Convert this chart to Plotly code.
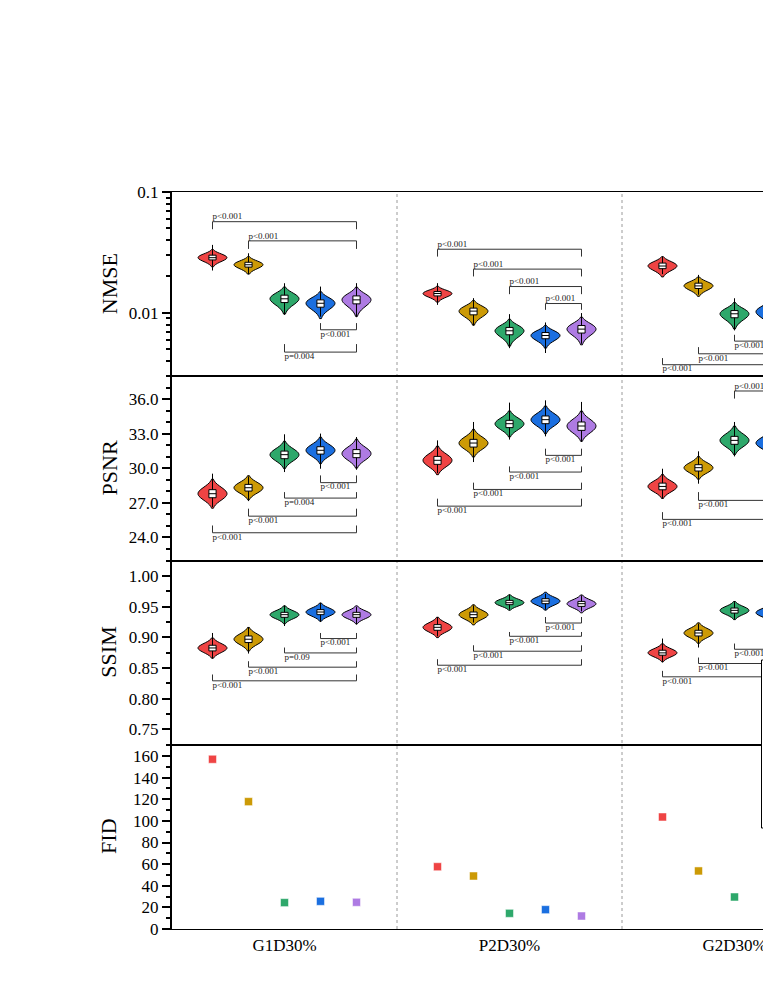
import plotly.graph_objects as go
from plotly.subplots import make_subplots

# Grupos (eixo x) e cores dos métodos
GRUPOS = ['G1D30%', 'P2D30%', 'G2D30%']
CORES = ['#EF4444', '#CC9A06', '#2EA86B', '#1B6FE0', '#AE7BE3']

# NMSE: mínimo, Q1, mediana, Q3, máximo por grupo / método
NMSE_MIN = [[0.0224, 0.0209, 0.00962, 0.0093, 0.0092],
            [0.01164, 0.00785, 0.0051, 0.00465, 0.00554],
            [0.0209, 0.0141, 0.00715, 0.0075]]
NMSE_Q1 = [[0.0274, 0.0239, 0.01216, 0.01113, 0.01186],
           [0.0138, 0.00962, 0.00658, 0.0061, 0.0068],
           [0.0232, 0.0159, 0.0091, 0.0095]]
NMSE_MED = [[0.0286, 0.0250, 0.01306, 0.0120, 0.0128],
            [0.01445, 0.01033, 0.0071, 0.00649, 0.00733],
            [0.0244, 0.0167, 0.00982, 0.0102]]
NMSE_Q3 = [[0.0300, 0.0262, 0.0140, 0.0128, 0.0138],
           [0.0150, 0.01094, 0.00757, 0.00687, 0.00785],
           [0.0258, 0.0176, 0.01044, 0.0109]]
NMSE_MAX = [[0.0365, 0.0311, 0.01758, 0.01649, 0.0176],
            [0.0176, 0.01322, 0.00975, 0.00832, 0.00995],
            [0.0292, 0.0206, 0.0132, 0.0135]]

# PSNR
PSNR_MIN = [[26.64, 27.16, 29.68, 29.97, 29.88],
            [29.59, 30.55, 32.50, 32.78, 32.29],
            [27.37, 28.67, 31.04, 30.9]]
PSNR_Q1 = [[27.45, 28.03, 30.84, 31.24, 30.93],
           [30.35, 31.85, 33.54, 33.88, 33.30],
           [28.14, 29.77, 32.09, 31.9]]
PSNR_MED = [[27.80, 28.32, 31.19, 31.57, 31.28],
            [30.70, 32.20, 33.88, 34.23, 33.68],
            [28.43, 30.06, 32.43, 32.2]]
PSNR_Q3 = [[28.15, 28.61, 31.50, 31.88, 31.63],
           [31.04, 32.52, 34.17, 34.55, 34.03],
           [28.72, 30.32, 32.78, 32.5]]
PSNR_MAX = [[29.54, 29.30, 32.96, 33.02, 32.72],
            [32.43, 34.03, 35.71, 35.91, 35.77],
            [29.97, 31.48, 34.03, 33.8]]

# SSIM
SSIM_MIN = [[0.8654, 0.8735, 0.9183, 0.9248, 0.9206],
            [0.9016, 0.9239, 0.9450, 0.9450, 0.9422],
            [0.8589, 0.8833, 0.9292, 0.926]]
SSIM_Q1 = [[0.8778, 0.8914, 0.9325, 0.9368, 0.9325],
           [0.9114, 0.9320, 0.9531, 0.9547, 0.9503],
           [0.8708, 0.9021, 0.9394, 0.936]]
SSIM_MED = [[0.8826, 0.8968, 0.9368, 0.9411, 0.9368],
            [0.9162, 0.9368, 0.9563, 0.9589, 0.9547],
            [0.8746, 0.9070, 0.9438, 0.940]]
SSIM_Q3 = [[0.8870, 0.9021, 0.9406, 0.9450, 0.9406],
           [0.9206, 0.9411, 0.9601, 0.9628, 0.9584],
           [0.8789, 0.9114, 0.9476, 0.944]]
SSIM_MAX = [[0.9070, 0.9167, 0.9519, 0.9563, 0.9492],
            [0.9330, 0.9519, 0.9693, 0.9709, 0.9682],
            [0.8979, 0.9222, 0.9573, 0.953]]

# FID
FID = [[157.0, 117.8, 24.4, 25.6, 24.7],
       [57.6, 49.0, 14.5, 17.9, 12.0],
       [103.6, 53.7, 29.6]]

# Comparações: (painel, grupo, método i, método j, nível, fim do traço, rótulo, lado)
COMPARACOES = [
    (1, 0, 0, 4, 0.0568, 0.0492, 'p<0.001', 'acima'),
    (1, 0, 1, 4, 0.0394, 0.0338, 'p<0.001', 'acima'),
    (1, 0, 3, 4, 0.00724, 0.00822, 'p<0.001', 'abaixo'),
    (1, 0, 2, 4, 0.00473, 0.00551, 'p=0.004', 'abaixo'),
    (1, 1, 0, 4, 0.0336, 0.0292, 'p<0.001', 'acima'),
    (1, 1, 1, 4, 0.0230, 0.0200, 'p<0.001', 'acima'),
    (1, 1, 2, 4, 0.0165, 0.01427, 'p<0.001', 'acima'),
    (1, 1, 3, 4, 0.01194, 0.01059, 'p<0.001', 'acima'),
    (1, 2, 2, 4, 0.00583, 0.00658, 'p<0.001', 'abaixo'),
    (1, 2, 1, 4, 0.00458, 0.0052, 'p<0.001', 'abaixo'),
    (1, 2, 0, 4, 0.00372, 0.00422, 'p<0.001', 'abaixo'),
    (2, 0, 3, 4, 28.76, 29.39, 'p<0.001', 'abaixo'),
    (2, 0, 2, 4, 27.42, 27.94, 'p=0.004', 'abaixo'),
    (2, 0, 1, 4, 25.85, 26.50, 'p<0.001', 'abaixo'),
    (2, 0, 0, 4, 24.41, 25.04, 'p<0.001', 'abaixo'),
    (2, 1, 3, 4, 31.13, 31.71, 'p<0.001', 'abaixo'),
    (2, 1, 2, 4, 29.68, 30.17, 'p<0.001', 'abaixo'),
    (2, 1, 1, 4, 28.17, 28.76, 'p<0.001', 'abaixo'),
    (2, 1, 0, 4, 26.72, 27.37, 'p<0.001', 'abaixo'),
    (2, 2, 2, 4, 36.72, 36.06, 'p<0.001', 'acima'),
    (2, 2, 1, 4, 27.22, 27.94, 'p<0.001', 'abaixo'),
    (2, 2, 0, 4, 25.57, 26.20, 'p<0.001', 'abaixo'),
    (3, 0, 3, 4, 0.8979, 0.9070, 'p<0.001', 'abaixo'),
    (3, 0, 2, 4, 0.8745, 0.8833, 'p=0.09', 'abaixo'),
    (3, 0, 1, 4, 0.8513, 0.8610, 'p<0.001', 'abaixo'),
    (3, 0, 0, 4, 0.8291, 0.8394, 'p<0.001', 'abaixo'),
    (3, 1, 3, 4, 0.9232, 0.9330, 'p<0.001', 'abaixo'),
    (3, 1, 2, 4, 0.9016, 0.9086, 'p<0.001', 'abaixo'),
    (3, 1, 1, 4, 0.8773, 0.8870, 'p<0.001', 'abaixo'),
    (3, 1, 0, 4, 0.8545, 0.8643, 'p<0.001', 'abaixo'),
    (3, 2, 2, 4, 0.8805, 0.8898, 'p<0.001', 'abaixo'),
    (3, 2, 1, 4, 0.8573, 0.8670, 'p<0.001', 'abaixo'),
    (3, 2, 0, 4, 0.8356, 0.8453, 'p<0.001', 'abaixo'),
]

FONTE = 'Liberation Serif, Times New Roman, serif'
LARGURA_GRUPO = 6.25
X_MAX = 591 / 36


def posicao(g, i):
    return g * LARGURA_GRUPO + LARGURA_GRUPO / 2 + (i - 2)


fig = make_subplots(rows=4, cols=1, shared_xaxes=True, vertical_spacing=0)

metricas = [
    (1, NMSE_MIN, NMSE_Q1, NMSE_MED, NMSE_Q3, NMSE_MAX),
    (2, PSNR_MIN, PSNR_Q1, PSNR_MED, PSNR_Q3, PSNR_MAX),
    (3, SSIM_MIN, SSIM_Q1, SSIM_MED, SSIM_Q3, SSIM_MAX),
]

for row, mins, q1s, meds, q3s, maxs in metricas:
    xs, bq1, bmed, bq3, bmin, bmax = [], [], [], [], [], []
    for g in range(len(meds)):
        for i in range(len(meds[g])):
            q1, med, q3 = q1s[g][i], meds[g][i], q3s[g][i]
            fig.add_trace(go.Violin(
                x0=posicao(g, i), y=[q1, med, q3],
                bandwidth=0.65 * (q3 - q1), width=0.8, scalemode='width',
                fillcolor=CORES[i], line=dict(color='black', width=1),
                points=False, box_visible=False, meanline_visible=False,
                hoverinfo='skip', showlegend=False,
            ), row=row, col=1)
            xs.append(posicao(g, i))
            bq1.append(q1)
            bmed.append(med)
            bq3.append(q3)
            bmin.append(mins[g][i])
            bmax.append(maxs[g][i])
    fig.add_trace(go.Box(
        x=xs, q1=bq1, median=bmed, q3=bq3, lowerfence=bmin, upperfence=bmax,
        width=0.2, whiskerwidth=0, fillcolor='white',
        line=dict(color='black', width=1), boxpoints=False,
        hoverinfo='skip', showlegend=False,
    ), row=row, col=1)

# FID
for g in range(len(FID)):
    fig.add_trace(go.Scatter(
        x=[posicao(g, i) for i in range(len(FID[g]))], y=FID[g],
        mode='markers',
        marker=dict(symbol='square', size=8, color=CORES[:len(FID[g])],
                    line=dict(color='white', width=0.5)),
        hoverinfo='skip', showlegend=False,
    ), row=4, col=1)

# Colchetes de significância
for row in (1, 2, 3):
    lx, ly = [], []
    for painel, g, i, j, nivel, fim, rotulo, lado in COMPARACOES:
        if painel != row:
            continue
        x0, x1 = posicao(g, i), posicao(g, j)
        lx += [x0, x0, x1, x1, None]
        ly += [fim, nivel, nivel, fim, None]
        fig.add_trace(go.Scatter(
            x=[x0], y=[nivel], text=[rotulo], mode='text',
            textposition='top right' if lado == 'acima' else 'bottom right',
            textfont=dict(family=FONTE, size=9, color='#222'),
            hoverinfo='skip', showlegend=False,
        ), row=row, col=1)
    fig.add_trace(go.Scatter(
        x=lx, y=ly, mode='lines', line=dict(color='#333', width=1),
        hoverinfo='skip', showlegend=False,
    ), row=row, col=1)

# Eixos
for row in range(1, 5):
    fig.update_xaxes(range=[0, X_MAX], showline=True, mirror=True, linecolor='black',
                     linewidth=1.2, ticks='', showgrid=False, zeroline=False,
                     automargin=False, row=row, col=1)
    fig.update_yaxes(showline=True, linecolor='black', linewidth=2, ticks='outside',
                     ticklen=8, tickwidth=1.5, tickcolor='black', showgrid=False,
                     zeroline=False, automargin=False,
                     tickfont=dict(family=FONTE, size=17, color='black'),
                     row=row, col=1)

fig.update_xaxes(tickvals=[posicao(g, 2) for g in range(3)], ticktext=GRUPOS,
                 showticklabels=True, ticklabeloverflow='allow',
                 tickfont=dict(family=FONTE, size=17, color='black'), row=4, col=1)

minor_log = [0.003, 0.004, 0.005, 0.006, 0.007, 0.008, 0.009,
             0.02, 0.03, 0.04, 0.05, 0.06, 0.07, 0.08, 0.09]
fig.update_yaxes(type='log', range=[-2.525, -1], tickvals=[0.01, 0.1],
                 ticktext=['0.01', '0.1'],
                 minor=dict(tickvals=minor_log, ticks='outside', ticklen=4,
                            tickcolor='black', showgrid=False), row=1, col=1)
fig.update_yaxes(range=[22, 38], tick0=0, dtick=3, tickformat='.1f',
                 minor=dict(dtick=1, ticks='outside', ticklen=4, tickcolor='black',
                            showgrid=False), row=2, col=1)
fig.update_yaxes(range=[0.725, 1.025], tick0=0, dtick=0.05, tickformat='.2f',
                 minor=dict(dtick=0.025, ticks='outside', ticklen=4, tickcolor='black',
                            showgrid=False), row=3, col=1)
fig.update_yaxes(range=[0, 170.4], tick0=0, dtick=20,
                 minor=dict(dtick=10, ticks='outside', ticklen=4, tickcolor='black',
                            showgrid=False), row=4, col=1)

# Separadores pontilhados entre grupos
for g in (1, 2):
    fig.add_shape(type='line', xref='x4', yref='paper', x0=g * LARGURA_GRUPO,
                  x1=g * LARGURA_GRUPO, y0=0, y1=1, layer='below',
                  line=dict(color='#9a9a9a', width=1, dash='dot'))

# Caixa da legenda (cortada na borda)
fig.add_shape(type='rect', xref='paper', yref='paper',
              x0=(761.5 - 172) / 591, x1=1.3, y0=(929 - 828) / 737, y1=(929 - 660) / 737,
              fillcolor='white', line=dict(color='black', width=1), layer='above')

# Títulos dos eixos y
for row, titulo in enumerate(['NMSE', 'PSNR', 'SSIM', 'FID'], start=1):
    yref = 'y domain' if row == 1 else f'y{row} domain'
    fig.add_annotation(text=titulo, xref='paper', x=(109 - 172) / 591, yref=yref, y=0.5,
                       textangle=-90, showarrow=False, xanchor='center', yanchor='middle',
                       font=dict(family=FONTE, size=22, color='black'))

fig.update_layout(
    template='none',
    width=763, height=987,
    margin=dict(l=172, r=0, t=192, b=58),
    paper_bgcolor='white', plot_bgcolor='white',
    showlegend=False,
    violinmode='overlay', boxmode='overlay',
    font=dict(family=FONTE, color='black'),
)

fig.write_html('out.html', config={'displayModeBar': False},
               post_script="document.body.style.margin='0px';")
